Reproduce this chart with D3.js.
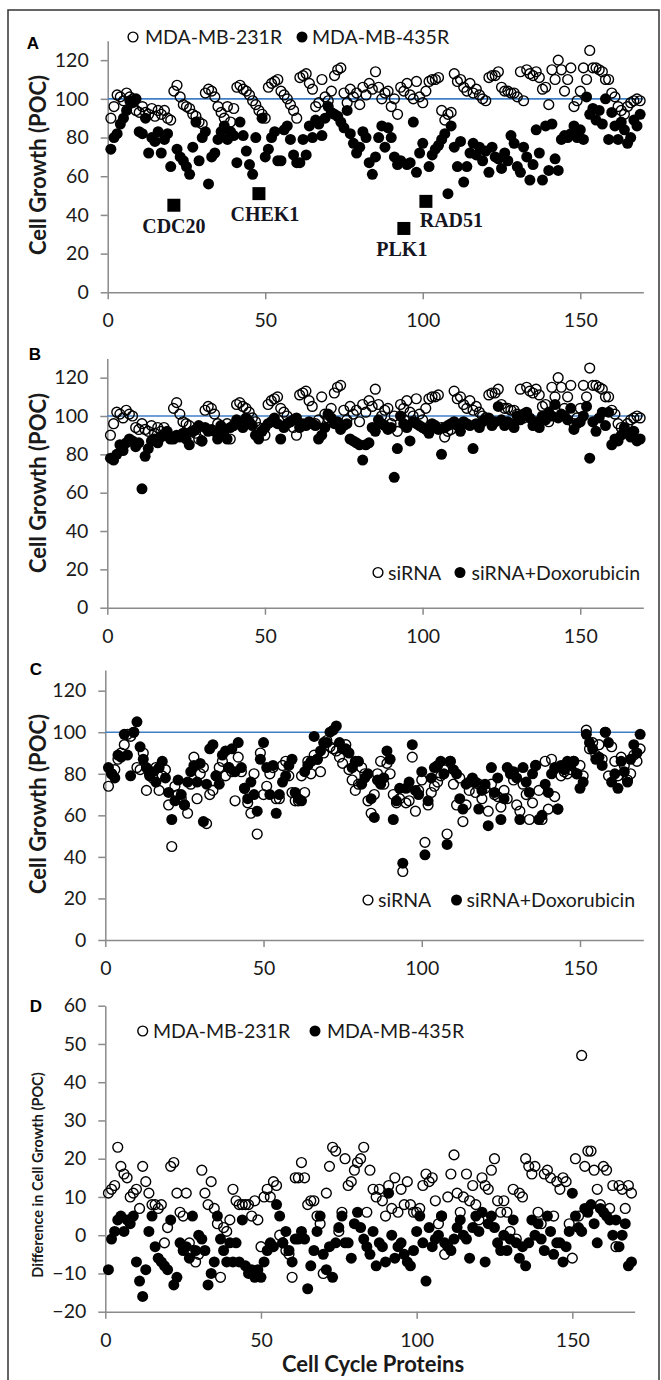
<!DOCTYPE html>
<html>
<head>
<meta charset="utf-8">
<script src="https://cdn.jsdelivr.net/npm/d3@7"></script>
<style>
  html, body { margin: 0; padding: 0; background: #fff; }
  svg { display: block; }
</style>
</head>
<body>
<svg id="fig" width="661" height="1380"></svg>
<script>
// ---- Data: cell growth (percent of control) for each of 169 cell cycle proteins ----

// MDA-MB-231R, siRNA alone
const growth231R_siRNA = [
  90,96,102,101,99,103,101,100,94,93, 96,93,92,95,91,94,92,94,90,89,
  104,107,101,97,96,95,92,91,88,87, 103,105,104,101,96,93,90,96,88,95,
  106,107,105,104,102,99,97,94,92,90, 106,108,109,110,104,102,100,97,94,90,
  111,112,113,108,105,96,98,110,101,99, 104,112,115,116,103,98,105,101,103,97,
  106,102,108,105,114,106,100,103,104,96, 100,92,106,104,108,102,100,109,101,98,
  104,109,110,110,111,94,89,92,93,113, 109,110,106,104,108,103,105,102,100,99,
  111,112,112,114,106,104,104,103,103,101, 114,99,115,113,112,114,111,105,106,97,
  115,110,120,115,104,110,116,96,99,104, 116,110,125,116,116,115,114,110,110,103,
  101,96,94,92,96,98,99,100,99
];

// MDA-MB-435R, siRNA alone
const growth435R_siRNA = [
  74,80,82,87,90,94,99,98,100,83, 82,90,72,80,78,83,72,79,82,65,
  45,74,70,68,65,61,75,88,68,80, 83,56,70,72,79,83,86,79,83,81,
  67,88,81,73,66,61,80,51,90,70, 74,80,83,68,68,84,86,79,71,67,
  67,79,71,86,80,89,87,81,90,96, 93,92,91,88,85,94,82,77,72,75,
  83,80,67,61,70,80,86,75,85,80, 70,66,68,33,66,67,88,62,72,77,
  47,65,71,74,76,79,82,51,86,75, 65,78,57,65,72,77,71,75,68,73,
  62,75,70,69,64,72,68,81,77,65, 62,75,70,58,66,84,72,58,86,63,
  87,69,63,79,81,80,82,86,80,84, 79,101,92,95,89,94,87,100,79,93,
  86,79,88,84,77,80,89,86,92
];

// MDA-MB-231R, siRNA + Doxorubicin
const growth231R_dox = [
  78,77,80,85,82,86,88,87,84,86, 62,79,83,87,88,86,89,90,92,88,
  88,90,89,91,88,85,92,93,95,87, 94,92,93,92,88,95,92,88,94,95,
  98,96,94,99,97,95,90,88,92,94, 96,97,99,96,88,94,96,97,98,99,
  94,96,95,97,96,95,88,90,94,101, 99,96,97,93,95,96,88,87,86,85,
  77,85,86,94,92,98,96,95,93,94, 68,83,100,96,94,87,97,96,95,94,
  93,91,96,95,93,80,94,95,96,97, 95,92,97,96,95,83,96,94,97,98,
  99,95,97,105,98,95,97,96,94,100, 98,101,102,99,95,97,94,100,98,102,
  100,106,99,101,100,98,104,93,96,97, 100,105,78,97,92,99,102,95,102,85,
  88,87,90,94,91,89,92,87,88
];

// MDA-MB-435R, siRNA + Doxorubicin
const growth435R_dox = [
  83,80,78,89,88,99,89,79,100,105, 93,87,83,79,81,76,83,86,78,71,
  58,67,77,70,65,76,81,84,76,85, 57,75,92,94,79,75,89,91,83,92,
  81,95,83,73,68,76,70,62,87,95, 83,70,84,61,70,76,79,84,87,71,
  68,67,81,84,86,98,87,91,95,95, 100,101,103,95,92,92,90,83,86,86,
  75,78,80,68,59,77,75,78,91,87, 58,67,73,37,73,76,94,72,70,81,
  41,67,78,83,84,86,80,46,86,82, 80,68,63,75,76,78,76,63,72,75,
  55,83,71,78,58,68,83,80,81,78, 58,83,76,71,80,84,58,60,75,71,
  80,83,63,84,82,86,84,86,80,73, 76,99,95,92,87,88,84,100,95,76,
  80,73,86,81,76,87,94,90,99
];

// Difference in cell growth (siRNA minus siRNA + Doxorubicin), MDA-MB-231R
const diff231R = [
  11,12,13,23,18,16,15,10,11,12, 7,18,14,11,8,8,7,8,-2,2,
  18,19,11,6,5,11,-2,-4,-7,-5, 17,11,8,14,7,3,-11,2,1,4,
  12,9,8,8,8,8,5,9,4,-3, 10,12,10,14,13,0,-2,-4,-5,-11,
  15,15,19,15,8,9,9,5,3,-10, 11,18,23,22,1,6,20,13,14,17,
  19,20,23,6,17,12,10,12,9,5, 13,7,15,6,12,8,14,8,6,6,
  7,13,16,14,15,9,3,5,-5,10, 16,21,11,6,10,16,9,13,8,4,
  15,13,12,17,20,9,6,9,6,1, 12,-1,11,10,20,18,16,18,6,3,
  16,17,15,5,14,12,15,14,3,-6, 20,5,47,18,22,22,17,12,8,18,
  17,7,13,-3,13,12,7,13,11
];

// Difference in cell growth (siRNA minus siRNA + Doxorubicin), MDA-MB-435R
const diff435R = [
  -9,-1,1,4,5,1,4,3,5,-7, -12,-16,-9,1,5,-3,-6,-7,-8,-9,
  4,-13,-11,-2,-4,-3,-6,5,-4,0, -1,-4,-13,-10,-7,5,-1,-4,-7,-2,
  -7,-2,-7,4,-8,-10,-9,-11,-9,-11, -7,-4,-2,-3,8,5,-2,1,-4,-7,
  -1,-1,1,-1,-14,-8,-4,1,5,-5, -9,-3,-11,-2,2,5,-2,-2,-6,3,
  6,2,-1,-3,-5,1,-8,-2,-3,-7, 11,0,-6,-3,-2,-5,-7,-8,-4,1,
  5,-2,-12,2,-3,-1,0,5,-2,-3, -4,-1,2,4,0,-1,-6,2,5,1,
  6,-7,3,5,2,-2,-4,0,-4,-1, 4,-2,-6,-3,-8,-2,4,0,3,-1,
  -4,5,1,-5,-2,-2,-7,-3,1,11, 5,2,1,7,6,8,3,-2,7,6,
  5,4,0,4,-3,0,3,-8,-7
];

// Proteins singled out in panel A (protein number and MDA-MB-435R siRNA growth)
const highlightNames = ["CDC20", "CHEK1", "PLK1", "RAD51"];
const highlightProtein = [21, 48, 94, 101];
const highlightGrowth = [45, 51, 33, 47];

// Axis ticks
const xTickValues = [0, 50, 100, 150];
const growthTicks = [0, 20, 40, 60, 80, 100, 120];
const diffTicks = [-20, -10, 0, 10, 20, 30, 40, 50, 60];

// ---- Drawing ----
const svg = d3.select("#fig");
const FONT = "Lato, 'Open Sans', 'DejaVu Sans', sans-serif";
const AXIS_COLOR = "#8a8a8a";
const TEXT_COLOR = "#1a1a1a";
const OPEN_R = 4.9, FILL_R = 5.5;

// figure frame
svg.append("rect")
  .attr("x", 8).attr("y", 10).attr("width", 651).attr("height", 1376)
  .attr("fill", "none").attr("stroke", "#333").attr("stroke-width", 1.5);

const toPoints = arr => arr.map((v, i) => ({ n: i + 1, v }));

const panels = [
  {
    letter: "A", letterPos: [33, 49],
    xRange: [107.7, 643.3], yBottom: 292.3, yTop: 40.8, yDomain: [0, 130], yTicks: growthTicks,
    yTitle: "Cell Growth (POC)", yTitleSize: 22, yTitlePos: [38, 165], refLine: 100,
    open: toPoints(growth231R_siRNA),
    filled: toPoints(growth435R_siRNA).filter(d => !highlightProtein.includes(d.n)),
    legend: { y: 44, cy: 37, items: [
      { kind: "open", cx: 133, tx: 145, text: "MDA-MB-231R" },
      { kind: "filled", cx: 302, tx: 312, text: "MDA-MB-435R" } ] }
  },
  {
    letter: "B", letterPos: [35, 360],
    xRange: [107.3, 643.3], yBottom: 607.7, yTop: 358.5, yDomain: [0, 130], yTicks: growthTicks,
    yTitle: "Cell Growth (POC)", yTitleSize: 22, yTitlePos: [38, 483], refLine: 100,
    open: toPoints(growth231R_siRNA),
    filled: toPoints(growth231R_dox),
    legend: { y: 580, cy: 572.5, items: [
      { kind: "open", cx: 378, tx: 388, text: "siRNA" },
      { kind: "filled", cx: 460, tx: 471.5, text: "siRNA+Doxorubicin" } ] }
  },
  {
    letter: "C", letterPos: [36, 675],
    xRange: [105.3, 643.3], yBottom: 940, yTop: 669.9, yDomain: [0, 130], yTicks: growthTicks,
    yTitle: "Cell Growth (POC)", yTitleSize: 22, yTitlePos: [38, 804], refLine: 100,
    open: toPoints(growth435R_siRNA),
    filled: toPoints(growth435R_dox),
    legend: { y: 907, cy: 900, items: [
      { kind: "open", cx: 368, tx: 378, text: "siRNA" },
      { kind: "filled", cx: 456.5, tx: 466.5, text: "siRNA+Doxorubicin" } ] }
  },
  {
    letter: "D", letterPos: [36, 1012],
    xRange: [105.3, 634.6], yBottom: 1311.7, yTop: 1005.7, yDomain: [-20, 60], yTicks: diffTicks,
    yTitle: "Difference in Cell Growth (POC)", yTitleSize: 14.5, yTitlePos: [38, 1175], refLine: null,
    open: toPoints(diff231R),
    filled: toPoints(diff435R),
    legend: { y: 1038, cy: 1031, items: [
      { kind: "open", cx: 142.7, tx: 153, text: "MDA-MB-231R" },
      { kind: "filled", cx: 315, tx: 327, text: "MDA-MB-435R" } ] },
    xTitle: "Cell Cycle Proteins", xTitlePos: [373, 1372]
  }
];

function drawPanel(p) {
  const x = d3.scaleLinear().domain([0, 170]).range(p.xRange);
  const y = d3.scaleLinear().domain(p.yDomain).range([p.yBottom, p.yTop]);
  const g = svg.append("g");

  // axes
  const yAxis = g.append("g")
    .attr("transform", `translate(${p.xRange[0]},0)`)
    .call(d3.axisLeft(y).tickValues(p.yTicks).tickSize(7).tickSizeOuter(0).tickPadding(12));
  const xAxis = g.append("g")
    .attr("transform", `translate(0,${p.yBottom})`)
    .call(d3.axisBottom(x).tickValues(xTickValues).tickSize(7).tickSizeOuter(0).tickPadding(14));
  [yAxis, xAxis].forEach(a => {
    a.select(".domain").attr("stroke", AXIS_COLOR).attr("stroke-width", 1.5);
    a.selectAll(".tick line").attr("stroke", AXIS_COLOR).attr("stroke-width", 1.5);
    a.selectAll(".tick text")
      .attr("fill", TEXT_COLOR)
      .style("font-family", FONT).style("font-size", "19.5px");
  });

  // reference line at 100 percent of control
  if (p.refLine !== null) {
    g.append("line")
      .attr("x1", x(0)).attr("x2", x(170))
      .attr("y1", y(p.refLine)).attr("y2", y(p.refLine))
      .attr("stroke", "#3f7fc6").attr("stroke-width", 1.6);
  }

  // open markers
  g.append("g").selectAll("circle").data(p.open).join("circle")
    .attr("cx", d => x(d.n)).attr("cy", d => y(d.v)).attr("r", OPEN_R)
    .attr("fill", "none").attr("stroke", "#000").attr("stroke-width", 1.4);

  // filled markers
  g.append("g").selectAll("circle").data(p.filled).join("circle")
    .attr("cx", d => x(d.n)).attr("cy", d => y(d.v)).attr("r", FILL_R)
    .attr("fill", "#000");

  // panel letter
  g.append("text").attr("x", p.letterPos[0]).attr("y", p.letterPos[1])
    .attr("text-anchor", "middle")
    .style("font-family", "'Liberation Sans', Arial, sans-serif")
    .style("font-weight", "bold").style("font-size", "17px")
    .attr("fill", "#000").text(p.letter);

  // y-axis title
  g.append("text")
    .attr("transform", `translate(${p.yTitlePos[0]},${p.yTitlePos[1]}) rotate(-90)`)
    .attr("text-anchor", "middle").attr("dy", "0.36em")
    .style("font-family", FONT).style("font-weight", "bold")
    .style("font-size", p.yTitleSize + "px")
    .attr("fill", TEXT_COLOR).text(p.yTitle);

  // x-axis title
  if (p.xTitle) {
    g.append("text").attr("x", p.xTitlePos[0]).attr("y", p.xTitlePos[1])
      .attr("text-anchor", "middle")
      .style("font-family", FONT).style("font-weight", "bold").style("font-size", "22px")
      .attr("fill", TEXT_COLOR).text(p.xTitle);
  }

  // legend
  const lg = g.append("g");
  p.legend.items.forEach(it => {
    if (it.kind === "open") {
      lg.append("circle").attr("cx", it.cx).attr("cy", p.legend.cy).attr("r", OPEN_R)
        .attr("fill", "none").attr("stroke", "#000").attr("stroke-width", 1.4);
    } else {
      lg.append("circle").attr("cx", it.cx).attr("cy", p.legend.cy).attr("r", FILL_R)
        .attr("fill", "#000");
    }
    lg.append("text").attr("x", it.tx).attr("y", p.legend.y)
      .style("font-family", FONT).style("font-size", "19.5px")
      .attr("fill", TEXT_COLOR).text(it.text);
  });

  return { x, y, g };
}

const drawn = panels.map(drawPanel);

// Highlighted proteins in panel A: square markers with gene names
const A = drawn[0];
const labelOffsets = { CDC20: [0, 28], CHEK1: [6, 27], PLK1: [-2, 28], RAD51: [25.5, 26] };
const SQ = 13;
highlightNames.forEach((name, k) => {
  const cx = A.x(highlightProtein[k]), cy = A.y(highlightGrowth[k]);
  A.g.append("rect")
    .attr("x", cx - SQ / 2).attr("y", cy - SQ / 2)
    .attr("width", SQ).attr("height", SQ).attr("fill", "#000");
  A.g.append("text")
    .attr("x", cx + labelOffsets[name][0]).attr("y", cy + labelOffsets[name][1])
    .attr("text-anchor", "middle")
    .style("font-family", "'Liberation Serif', 'Times New Roman', serif")
    .style("font-weight", "bold").style("font-size", "20px")
    .attr("fill", "#15151f").text(name);
});
</script>
</body>
</html>
